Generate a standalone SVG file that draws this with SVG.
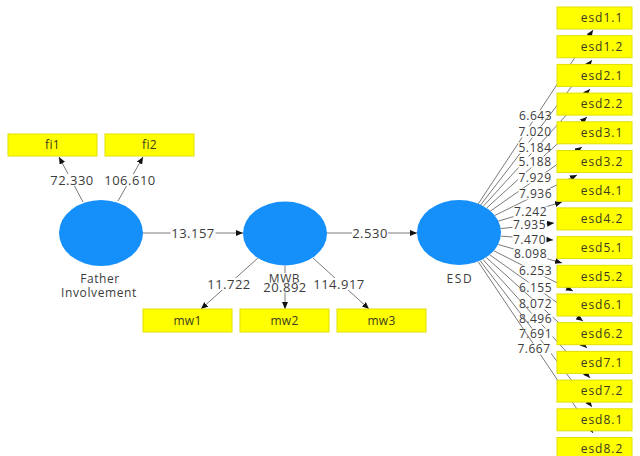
<svg xmlns="http://www.w3.org/2000/svg" width="640" height="456" viewBox="0 0 640 456">
<defs>
<marker id="ah" markerUnits="userSpaceOnUse" markerWidth="8" markerHeight="6" refX="7" refY="3" orient="auto">
<path d="M0,0 L7,3 L0,6 z" fill="#111"/>
</marker>
<style>
.ln{stroke:#7a7a7a;stroke-width:1;fill:none;marker-end:url(#ah)}
.bg{fill:#fff}
.lb{font-family:"Open Sans","Noto Sans",sans-serif;font-size:13px;fill:#3c3c3c;text-anchor:middle;letter-spacing:0.5px}
.ls{font-family:"Open Sans","Noto Sans",sans-serif;font-size:12px;fill:#3c3c3c;text-anchor:middle;letter-spacing:0.5px}
.lv{fill:#1590fa}
.nl{font-family:"Open Sans","Noto Sans",sans-serif;font-size:12px;fill:#3c3c3c;text-anchor:middle;letter-spacing:0.6px}
.ind{fill:#ffff00;stroke:#e0e000;stroke-width:1}
.it{font-family:"Open Sans","Noto Sans",sans-serif;font-size:12px;fill:#3a3a20;text-anchor:middle;letter-spacing:0.3px}
.et{font-family:"Open Sans","Noto Sans",sans-serif;font-size:12px;fill:#3a3a20;text-anchor:middle;letter-spacing:1px}
</style>
</defs>
<rect width="640" height="456" fill="#fff"/>
<g id="connectors">
<line class="ln" x1="83" y1="202" x2="59" y2="157"/>
<rect class="bg" x="50" y="174" width="44" height="12"/><text class="lb" x="72" y="184.6">72.330</text>
<line class="ln" x1="118" y1="201" x2="143" y2="157"/>
<rect class="bg" x="104.5" y="174" width="51" height="12"/><text class="lb" x="130" y="184.6">106.610</text>
<line class="ln" x1="143" y1="233" x2="243" y2="233"/>
<rect class="bg" x="170.5" y="227" width="45" height="12"/><text class="lb" x="193" y="237.6">13.157</text>
<line class="ln" x1="327" y1="233" x2="417" y2="233"/>
<rect class="bg" x="352" y="227" width="36" height="12"/><text class="lb" x="370" y="237.6">2.530</text>
<line class="ln" x1="258" y1="258" x2="201" y2="309"/>
<rect class="bg" x="207" y="278" width="44" height="12"/><text class="lb" x="229" y="288.6">11.722</text>
<line class="ln" x1="285" y1="266" x2="285" y2="309"/>
<line class="ln" x1="313" y1="258" x2="369" y2="309"/>
<rect class="bg" x="313.5" y="278" width="51" height="12"/><text class="lb" x="339" y="288.6">114.917</text>
<line class="ln" x1="478.1" y1="204.1" x2="593" y2="30"/>
<rect class="bg" x="518.5" y="110.5" width="34" height="11"/><text class="ls" x="535.5" y="120.3">6.643</text>
<line class="ln" x1="480.5" y1="205.1" x2="592" y2="60"/>
<rect class="bg" x="518" y="126.5" width="34" height="11"/><text class="ls" x="535" y="136.3">7.020</text>
<line class="ln" x1="483.2" y1="206.4" x2="590" y2="89"/>
<rect class="bg" x="518" y="142.5" width="34" height="11"/><text class="ls" x="535" y="152.3">5.184</text>
<line class="ln" x1="486.3" y1="208.3" x2="587" y2="117"/>
<rect class="bg" x="518" y="156.5" width="34" height="11"/><text class="ls" x="535" y="166.3">5.188</text>
<line class="ln" x1="490.2" y1="211.2" x2="582" y2="147"/>
<rect class="bg" x="518" y="172.5" width="34" height="11"/><text class="ls" x="535" y="182.3">7.929</text>
<line class="ln" x1="494.5" y1="215.6" x2="577" y2="175"/>
<rect class="bg" x="518.5" y="188.5" width="34" height="11"/><text class="ls" x="535.5" y="198.3">7.936</text>
<line class="ln" x1="498.1" y1="221.2" x2="562" y2="202"/>
<rect class="bg" x="513.5" y="206.5" width="34" height="11"/><text class="ls" x="530.5" y="216.3">7.242</text>
<line class="ln" x1="500.6" y1="228.6" x2="554" y2="223"/>
<rect class="bg" x="512.5" y="219.5" width="34" height="11"/><text class="ls" x="529.5" y="229.3">7.935</text>
<line class="ln" x1="500.8" y1="236.1" x2="553" y2="240"/>
<rect class="bg" x="512.5" y="234.5" width="34" height="11"/><text class="ls" x="529.5" y="244.3">7.470</text>
<line class="ln" x1="498.3" y1="244.5" x2="562" y2="263"/>
<rect class="bg" x="513.5" y="248.5" width="34" height="11"/><text class="ls" x="530.5" y="258.3">8.098</text>
<line class="ln" x1="494.1" y1="250.9" x2="573" y2="291"/>
<rect class="bg" x="518.5" y="265.5" width="34" height="11"/><text class="ls" x="535.5" y="275.3">6.253</text>
<line class="ln" x1="490" y1="255" x2="583" y2="321"/>
<rect class="bg" x="518.5" y="282.5" width="34" height="11"/><text class="ls" x="535.5" y="292.3">6.155</text>
<line class="ln" x1="486.4" y1="257.6" x2="587" y2="348"/>
<rect class="bg" x="518.5" y="298.5" width="34" height="11"/><text class="ls" x="535.5" y="308.3">8.072</text>
<line class="ln" x1="483.1" y1="259.6" x2="590" y2="378"/>
<rect class="bg" x="518.5" y="313.5" width="34" height="11"/><text class="ls" x="535.5" y="323.3">8.496</text>
<line class="ln" x1="480.4" y1="261" x2="592" y2="407"/>
<rect class="bg" x="518.5" y="328.5" width="34" height="11"/><text class="ls" x="535.5" y="338.3">7.691</text>
<line class="ln" x1="478.3" y1="261.9" x2="593" y2="433"/>
<rect class="bg" x="517" y="343.5" width="34" height="11"/><text class="ls" x="534" y="353.3">7.667</text>
</g>
<g id="father-involvement">
<ellipse class="lv" cx="101" cy="233" rx="42" ry="33"/>
<text class="nl" x="100" y="282.5">Father</text>
<text class="nl" x="99" y="296.5">Involvement</text>
</g>
<g id="mwb">
<ellipse class="lv" cx="285" cy="233.5" rx="42" ry="32"/>
<rect class="bg" x="267" y="273" width="36" height="9.5"/>
<text class="nl" x="284.5" y="282.5">MWB</text>
<rect class="bg" x="263" y="282.5" width="44" height="10"/>
<text class="lb" x="285" y="292">20.892</text>
</g>
<g id="esd">
<ellipse class="lv" cx="459" cy="232.5" rx="42" ry="32.5"/>
<text class="nl" x="460" y="282.5" style="letter-spacing:1.7px">ESD</text>
</g>
<g id="fi1"><rect class="ind" x="8" y="134" width="89" height="22"/><text class="it" x="52.5" y="149.3">fi1</text></g>
<g id="fi2"><rect class="ind" x="105" y="134" width="89" height="22"/><text class="it" x="149.5" y="149.3">fi2</text></g>
<g id="mw1"><rect class="ind" x="143" y="309" width="89" height="23"/><text class="it" x="187.5" y="324.8">mw1</text></g>
<g id="mw2"><rect class="ind" x="240" y="309" width="89" height="23"/><text class="it" x="284.5" y="324.8">mw2</text></g>
<g id="mw3"><rect class="ind" x="337" y="309" width="89" height="23"/><text class="it" x="381.5" y="324.8">mw3</text></g>
<g id="esd1.1"><rect class="ind" x="557" y="7" width="75" height="22"/><text class="et" x="602" y="22.3">esd1.1</text></g>
<g id="esd1.2"><rect class="ind" x="557" y="35.7" width="75" height="22"/><text class="et" x="602" y="51">esd1.2</text></g>
<g id="esd2.1"><rect class="ind" x="557" y="64.4" width="75" height="22"/><text class="et" x="602" y="79.7">esd2.1</text></g>
<g id="esd2.2"><rect class="ind" x="557" y="93.1" width="75" height="22"/><text class="et" x="602" y="108.4">esd2.2</text></g>
<g id="esd3.1"><rect class="ind" x="557" y="121.8" width="75" height="22"/><text class="et" x="602" y="137.1">esd3.1</text></g>
<g id="esd3.2"><rect class="ind" x="557" y="150.5" width="75" height="22"/><text class="et" x="602" y="165.8">esd3.2</text></g>
<g id="esd4.1"><rect class="ind" x="557" y="179.2" width="75" height="22"/><text class="et" x="602" y="194.5">esd4.1</text></g>
<g id="esd4.2"><rect class="ind" x="557" y="207.9" width="75" height="22"/><text class="et" x="602" y="223.2">esd4.2</text></g>
<g id="esd5.1"><rect class="ind" x="557" y="236.6" width="75" height="22"/><text class="et" x="602" y="251.9">esd5.1</text></g>
<g id="esd5.2"><rect class="ind" x="557" y="265.3" width="75" height="22"/><text class="et" x="602" y="280.6">esd5.2</text></g>
<g id="esd6.1"><rect class="ind" x="557" y="294" width="75" height="22"/><text class="et" x="602" y="309.3">esd6.1</text></g>
<g id="esd6.2"><rect class="ind" x="557" y="322.7" width="75" height="22"/><text class="et" x="602" y="338">esd6.2</text></g>
<g id="esd7.1"><rect class="ind" x="557" y="351.4" width="75" height="22"/><text class="et" x="602" y="366.7">esd7.1</text></g>
<g id="esd7.2"><rect class="ind" x="557" y="380.1" width="75" height="22"/><text class="et" x="602" y="395.4">esd7.2</text></g>
<g id="esd8.1"><rect class="ind" x="557" y="408.8" width="75" height="22"/><text class="et" x="602" y="424.1">esd8.1</text></g>
<g id="esd8.2"><rect class="ind" x="557" y="437.5" width="75" height="22"/><text class="et" x="602" y="452.8">esd8.2</text></g>
</svg>
